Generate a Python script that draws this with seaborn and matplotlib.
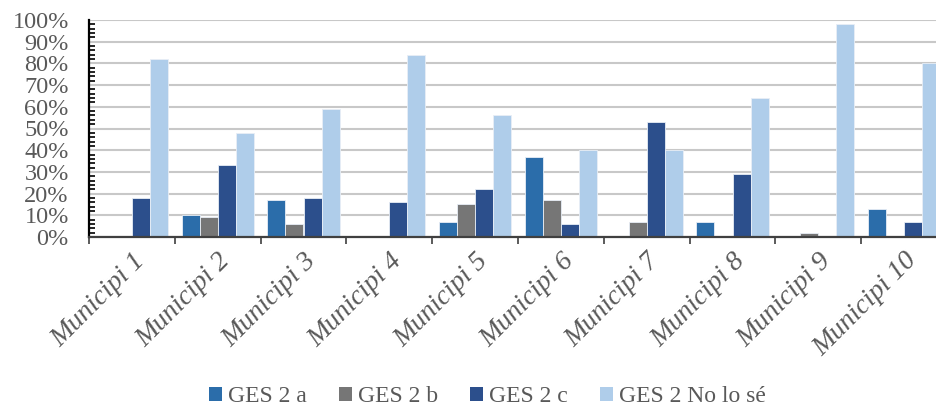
import matplotlib
matplotlib.use("Agg")
import matplotlib.pyplot as plt
from matplotlib.ticker import MultipleLocator, FixedLocator, FuncFormatter
from matplotlib.patches import Patch
import seaborn as sns
import pandas as pd

municipis = ["Municipi 1", "Municipi 2", "Municipi 3", "Municipi 4", "Municipi 5",
             "Municipi 6", "Municipi 7", "Municipi 8", "Municipi 9", "Municipi 10"]
series = ["GES 2 a", "GES 2 b", "GES 2 c", "GES 2 No lo sé"]
ges_2a = [0, 10, 17, 0, 7, 37, 0, 7, 0, 13]
ges_2b = [0, 9, 6, 0, 15, 17, 7, 0, 2, 0]
ges_2c = [18, 33, 18, 16, 22, 6, 53, 29, 0, 7]
ges_2_no = [82, 48, 59, 84, 56, 40, 40, 64, 98, 80]
colors = ["#2B6DAA", "#767676", "#2C4F8C", "#AFCDEA"]

rows = []
for name, vals in zip(series, [ges_2a, ges_2b, ges_2c, ges_2_no]):
    for m, v in zip(municipis, vals):
        rows.append({"Municipi": m, "Sèrie": name, "Valor": v})
df = pd.DataFrame(rows)

sns.set_style("white")
plt.rcParams["font.family"] = ["Liberation Serif", "DejaVu Serif"]
text_color = "#595959"

fig = plt.figure(figsize=(9.37, 4.08), dpi=100)
ax = fig.add_axes([89 / 937, 171 / 408, (947 - 89) / 937, 217 / 408])

sns.barplot(data=df, x="Municipi", y="Valor", hue="Sèrie", order=municipis,
            hue_order=series, palette=colors, saturation=1, width=0.84, ax=ax,
            edgecolor="#E8EEF6", linewidth=0.6, legend=False, zorder=3)

ax.set_xlim(-0.5, 9.5)
ax.set_ylim(0, 100)
ax.set_xlabel("")
ax.set_ylabel("")

ax.yaxis.set_major_locator(MultipleLocator(10))
ax.yaxis.set_minor_locator(MultipleLocator(2))
ax.yaxis.set_major_formatter(FuncFormatter(lambda v, p: f"{v:.0f}%"))
ax.grid(axis="y", which="major", color="#C8C8C8", linewidth=1.5, zorder=0)
ax.set_axisbelow(True)

ax.xaxis.set_minor_locator(FixedLocator([i - 0.5 for i in range(11)]))

for s in ["top", "right"]:
    ax.spines[s].set_visible(False)
ax.spines["left"].set_color("black")
ax.spines["left"].set_linewidth(1.6)
ax.spines["bottom"].set_color("#404040")
ax.spines["bottom"].set_linewidth(1.6)
ax.spines["bottom"].set_zorder(4)

ax.tick_params(axis="y", which="major", direction="inout", length=9, width=1.5,
               color="black", labelsize=17.5, labelcolor=text_color, pad=10)
ax.tick_params(axis="y", which="minor", direction="in", length=4, width=1.2,
               color="black", left=True)
ax.tick_params(axis="x", which="major", length=0, labelsize=20,
               labelcolor=text_color, pad=8)
ax.tick_params(axis="x", which="minor", direction="out", length=5, width=1.2,
               color="#404040", bottom=True)

for lab in ax.get_xticklabels():
    lab.set_rotation(45)
    lab.set_ha("right")
    lab.set_rotation_mode("anchor")
    lab.set_fontstyle("italic")

handles = [Patch(facecolor=c, edgecolor="none") for c in colors]
fig.legend(handles, series, loc="lower center", bbox_to_anchor=(0.52, -0.05),
           ncol=4, frameon=False, fontsize=17, labelcolor=text_color,
           handlelength=0.55, handleheight=0.55, handletextpad=0.25,
           columnspacing=1.37)

fig.savefig("out.png", dpi=100)
